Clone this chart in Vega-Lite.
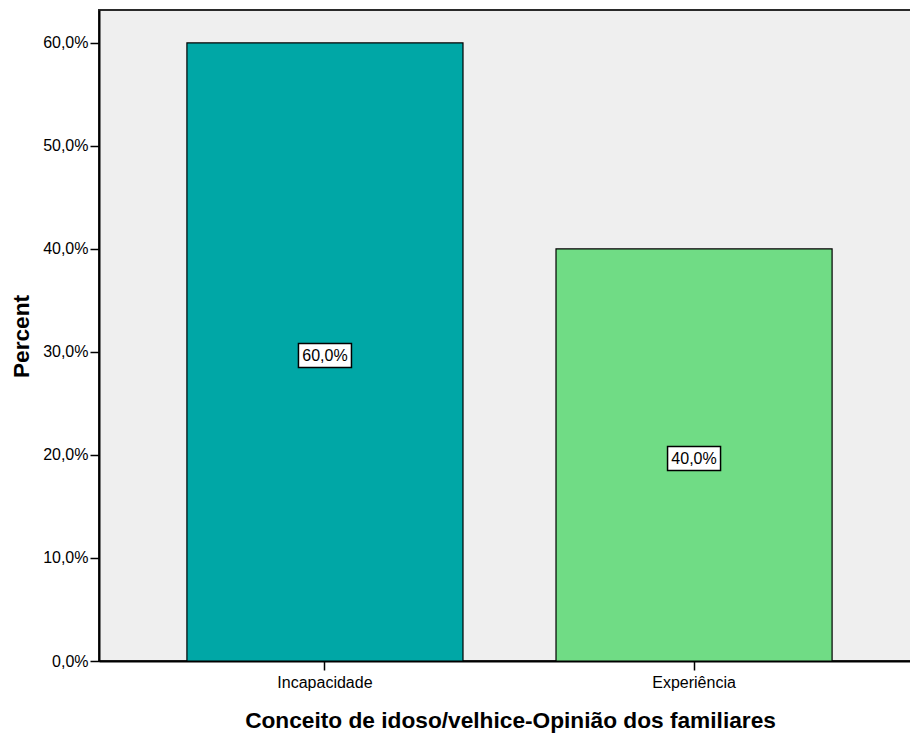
{
  "$schema": "https://vega.github.io/schema/vega-lite/v6.json",
  "autosize": "none",
  "width": 812,
  "height": 651,
  "padding": {"left": 99, "top": 10, "right": 0, "bottom": 72},
  "background": "white",
  "config": {
    "font": "Liberation Sans",
    "view": {"fill": "#efefef", "stroke": "#2a2a2a", "strokeWidth": 2},
    "axis": {
      "domainColor": "black",
      "domainWidth": 2,
      "tickColor": "black",
      "tickWidth": 1.5,
      "tickSize": 9,
      "labelFont": "Liberation Sans",
      "labelFontSize": 16,
      "labelColor": "black",
      "titleFont": "Liberation Sans",
      "titleFontWeight": "bold",
      "titleFontSize": 22.7,
      "titleColor": "black",
      "grid": false
    }
  },
  "data": {
    "values": [
      {"conceito": "Incapacidade", "pct": 60.0},
      {"conceito": "Experiência", "pct": 40.0}
    ]
  },
  "transform": [
    {"calculate": "datum.pct / 2", "as": "mid"},
    {"calculate": "replace(format(datum.pct, '.1f'), '.', ',') + '%'", "as": "label"}
  ],
  "encoding": {
    "x": {
      "field": "conceito",
      "type": "nominal",
      "sort": null,
      "scale": {"paddingInner": 0.252, "paddingOuter": 0.226, "align": 0.527},
      "axis": {
        "title": "Conceito de idoso/velhice-Opinião dos familiares",
        "labelAngle": 0,
        "labelPadding": 4,
        "titleX": 411,
        "titleY": 66,
        "titleAlign": "center",
        "titleBaseline": "alphabetic"
      }
    }
  },
  "layer": [
    {
      "mark": {"type": "bar", "stroke": "black", "strokeWidth": 1.2},
      "encoding": {
        "y": {
          "field": "pct",
          "type": "quantitative",
          "scale": {"domain": [0, 63.2], "nice": false},
          "axis": {
            "title": "Percent",
            "values": [0, 10, 20, 30, 40, 50, 60],
            "labelExpr": "replace(format(datum.value, '.1f'), '.', ',') + '%'",
            "labelPadding": 2,
            "titleX": -71,
            "titleY": 326,
            "titleAngle": -90,
            "titleAlign": "center",
            "titleBaseline": "alphabetic"
          }
        },
        "color": {
          "field": "conceito",
          "type": "nominal",
          "sort": null,
          "scale": {"domain": ["Incapacidade", "Experiência"], "range": ["#00a7a6", "#70dc85"]},
          "legend": null
        }
      }
    },
    {
      "mark": {
        "type": "point",
        "shape": "M-1.104,-0.5H1.104V0.5H-1.104Z",
        "size": 2304,
        "filled": true,
        "fill": "white",
        "stroke": "black",
        "strokeWidth": 1.5,
        "opacity": 1,
        "yOffset": 3.5
      },
      "encoding": {
        "y": {"field": "mid", "type": "quantitative"}
      }
    },
    {
      "mark": {
        "type": "text",
        "fontSize": 16,
        "font": "Liberation Sans",
        "color": "black",
        "baseline": "middle",
        "align": "center",
        "yOffset": 4
      },
      "encoding": {
        "y": {"field": "mid", "type": "quantitative"},
        "text": {"field": "label", "type": "nominal"}
      }
    }
  ]
}
